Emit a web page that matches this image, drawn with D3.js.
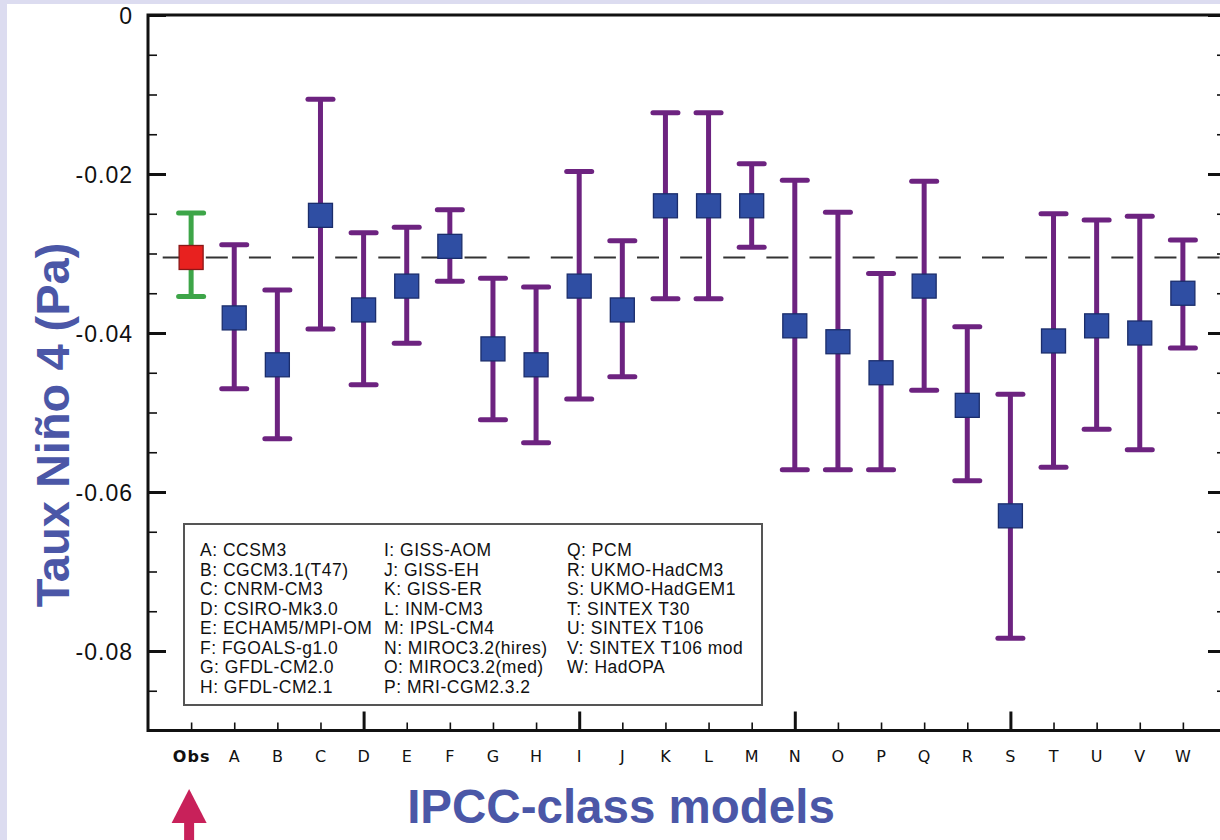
<!DOCTYPE html>
<html>
<head>
<meta charset="utf-8">
<script src="https://cdn.jsdelivr.net/npm/d3@7"></script>
<style>
  html, body { margin: 0; padding: 0; background: #dcdcf0; }
  svg { display: block; }
</style>
</head>
<body>
<svg id="chart" width="1220" height="840"></svg>
<script>
// Zonal wind stress in the Niño 4 region: observed value and IPCC-class models
const categories = ["Obs","A","B","C","D","E","F","G","H","I","J","K","L","M","N","O","P","Q","R","S","T","U","V","W"];
const means = [-0.0305,-0.0381,-0.0440,-0.0252,-0.0371,-0.0341,-0.0291,-0.0420,-0.0440,-0.0341,-0.0371,-0.0240,-0.0240,-0.0240,-0.0391,-0.0411,-0.0450,-0.0341,-0.0491,-0.0630,-0.0410,-0.0391,-0.0400,-0.0350];
const upper = [-0.0249,-0.0289,-0.0346,-0.0106,-0.0274,-0.0267,-0.0245,-0.0331,-0.0342,-0.0197,-0.0284,-0.0123,-0.0123,-0.0187,-0.0208,-0.0248,-0.0325,-0.0209,-0.0392,-0.0477,-0.0250,-0.0258,-0.0253,-0.0283];
const lower = [-0.0354,-0.0470,-0.0533,-0.0395,-0.0465,-0.0413,-0.0335,-0.0509,-0.0538,-0.0483,-0.0455,-0.0357,-0.0357,-0.0292,-0.0572,-0.0572,-0.0572,-0.0472,-0.0586,-0.0784,-0.0569,-0.0521,-0.0547,-0.0419];
const obsLevel = -0.0305;
const yLabelTicks = [0,-0.02,-0.04,-0.06,-0.08];
const yMinorTicks = [-0.005,-0.01,-0.015,-0.025,-0.03,-0.035,-0.045,-0.05,-0.055,-0.065,-0.07,-0.075,-0.085];
const majorXTicks = ["D","I","N","S"];
const legendCol1 = ["A: CCSM3","B: CGCM3.1(T47)","C: CNRM-CM3","D: CSIRO-Mk3.0","E: ECHAM5/MPI-OM","F: FGOALS-g1.0","G: GFDL-CM2.0","H: GFDL-CM2.1"];
const legendCol2 = ["I: GISS-AOM","J: GISS-EH","K: GISS-ER","L: INM-CM3","M: IPSL-CM4","N: MIROC3.2(hires)","O: MIROC3.2(med)","P: MRI-CGM2.3.2"];
const legendCol3 = ["Q: PCM","R: UKMO-HadCM3","S: UKMO-HadGEM1","T: SINTEX T30","U: SINTEX T106","V: SINTEX T106 mod","W: HadOPA"];
const yTitle = "Taux Niño 4 (Pa)";
const xTitle = "IPCC-class models";

const svg = d3.select("#chart");
const W = 1220, H = 840;
const plot = { left: 148, right: 1226, top: 15, bottom: 730.5 };

const titleBlue = "#4b57a7";
const barPurple = "#6d2380";
const sqBlue = "#2f4ea3";
const sqBlueEdge = "#1b2d6b";
const obsGreen = "#3da548";
const obsRed = "#e8211f";
const obsRedEdge = "#8a1717";

// white panel over the lavender page
svg.append("rect").attr("x", 7).attr("y", 4).attr("width", W - 7).attr("height", H - 4).attr("fill", "#ffffff");

const x = d3.scalePoint().domain(categories).range([plot.left, plot.right]).padding(1);
const y = d3.scaleLinear().domain([-0.09, 0]).range([plot.bottom, plot.top]);

// legend box listing the model names
const legend = svg.append("g").attr("class", "legend");
legend.append("rect")
  .attr("x", 184).attr("y", 524).attr("width", 578).attr("height", 181)
  .attr("fill", "#ffffff").attr("stroke", "#555").attr("stroke-width", 2);
[[legendCol1, 200], [legendCol2, 384], [legendCol3, 567]].forEach(([col, cx]) => {
  legend.selectAll(null).data(col).enter().append("text")
    .attr("x", cx)
    .attr("y", (d, i) => 556 + i * 19.5)
    .attr("font-family", "Liberation Sans, Arial, sans-serif")
    .attr("font-size", 17.5)
    .attr("letter-spacing", 0.5)
    .attr("fill", "#111")
    .text(d => d);
});

// observed reference level
const step = x.step();
svg.append("line")
  .attr("x1", plot.left).attr("x2", plot.right)
  .attr("y1", y(obsLevel)).attr("y2", y(obsLevel))
  .attr("stroke", "#333").attr("stroke-width", 1.8)
  .attr("stroke-dasharray", `22,${step - 22}`)
  .attr("stroke-dashoffset", step - 14.7);

// error bars
const rows = categories.map((c, i) => ({ c, m: means[i], lo: lower[i], hi: upper[i], obs: c === "Obs" }));
const bars = svg.append("g").attr("class", "bars");
const capW = 15;
bars.selectAll("line.stem").data(rows).enter().append("line")
  .attr("x1", d => x(d.c)).attr("x2", d => x(d.c))
  .attr("y1", d => y(d.hi)).attr("y2", d => y(d.lo))
  .attr("stroke", d => d.obs ? obsGreen : barPurple).attr("stroke-width", 5);
["hi", "lo"].forEach(k => {
  bars.selectAll(null).data(rows).enter().append("line")
    .attr("x1", d => x(d.c) - capW + 2.5).attr("x2", d => x(d.c) + capW - 2.5)
    .attr("y1", d => y(d[k])).attr("y2", d => y(d[k]))
    .attr("stroke", d => d.obs ? obsGreen : barPurple)
    .attr("stroke-width", 5).attr("stroke-linecap", "round");
});

// mean markers
const sq = 24;
svg.append("g").selectAll("rect").data(rows).enter().append("rect")
  .attr("x", d => x(d.c) - sq / 2).attr("y", d => y(d.m) - sq / 2)
  .attr("width", sq).attr("height", sq)
  .attr("fill", d => d.obs ? obsRed : sqBlue)
  .attr("stroke", d => d.obs ? obsRedEdge : sqBlueEdge).attr("stroke-width", 1.3);

// axes: inward ticks on all sides
const axisColor = "#111";
function styleTicks(g, w) {
  g.select(".domain").remove();
  g.selectAll(".tick line").attr("stroke", axisColor).attr("stroke-width", w);
  g.selectAll(".tick text").remove();
}
svg.append("g").attr("transform", `translate(${plot.left},0)`)
  .call(d3.axisRight(y).tickValues(yLabelTicks).tickSize(18)).call(g => styleTicks(g, 3));
svg.append("g").attr("transform", `translate(${plot.left},0)`)
  .call(d3.axisRight(y).tickValues(yMinorTicks).tickSize(9)).call(g => styleTicks(g, 1.6));
svg.append("g").attr("transform", `translate(${plot.right},0)`)
  .call(d3.axisLeft(y).tickValues(yLabelTicks).tickSize(18)).call(g => styleTicks(g, 3));
svg.append("g").attr("transform", `translate(${plot.right},0)`)
  .call(d3.axisLeft(y).tickValues(yMinorTicks).tickSize(9)).call(g => styleTicks(g, 1.6));
svg.append("g").attr("transform", `translate(0,${plot.bottom})`)
  .call(d3.axisTop(x).tickValues(categories.filter(c => !majorXTicks.includes(c))).tickSize(8)).call(g => styleTicks(g, 1.6));
svg.append("g").attr("transform", `translate(0,${plot.bottom})`)
  .call(d3.axisTop(x).tickValues(majorXTicks).tickSize(19)).call(g => styleTicks(g, 3));

// y tick labels
const yLab = svg.append("g").attr("transform", `translate(${plot.left},0)`)
  .call(d3.axisLeft(y).tickValues(yLabelTicks).tickSize(0).tickPadding(15)
    .tickFormat(d => d === 0 ? "0" : d.toFixed(2)));
yLab.select(".domain").remove();
yLab.selectAll(".tick text")
  .attr("font-family", "Liberation Sans, Arial, sans-serif")
  .attr("font-size", 23).attr("letter-spacing", 1)
  .attr("fill", "#111").attr("dy", "0.38em");

// x tick labels
const xLab = svg.append("g").attr("transform", `translate(0,${plot.bottom})`)
  .call(d3.axisBottom(x).tickSize(0).tickPadding(20));
xLab.select(".domain").remove();
xLab.selectAll(".tick text")
  .attr("font-family", "DejaVu Sans, sans-serif")
  .attr("font-size", 16).attr("letter-spacing", 1)
  .attr("font-weight", d => d === "Obs" ? "bold" : "normal")
  .attr("fill", "#111");

// plot frame
svg.append("rect")
  .attr("x", plot.left).attr("y", plot.top)
  .attr("width", plot.right - plot.left).attr("height", plot.bottom - plot.top)
  .attr("fill", "none").attr("stroke", axisColor).attr("stroke-width", 3);

// axis titles
svg.append("text")
  .attr("transform", `translate(69,${(242 + 608) / 2}) rotate(-90)`)
  .attr("text-anchor", "middle")
  .attr("font-family", "Liberation Sans, Arial, sans-serif")
  .attr("font-weight", "bold").attr("font-size", 47)
  .attr("fill", titleBlue).text(yTitle);
svg.append("text")
  .attr("x", 621).attr("y", 823)
  .attr("text-anchor", "middle")
  .attr("font-family", "Liberation Sans, Arial, sans-serif")
  .attr("font-weight", "bold").attr("font-size", 47.5)
  .attr("fill", titleBlue).text(xTitle);

// arrow pointing at the observed value
const ax = x("Obs") - 2;
svg.append("rect").attr("x", ax - 5).attr("y", 822).attr("width", 10).attr("height", 20).attr("fill", "#c8215a");
svg.append("path")
  .attr("d", `M${ax},789 L${ax + 17.5},823 L${ax - 17.5},823 Z`)
  .attr("fill", "#c8215a");
</script>
</body>
</html>
